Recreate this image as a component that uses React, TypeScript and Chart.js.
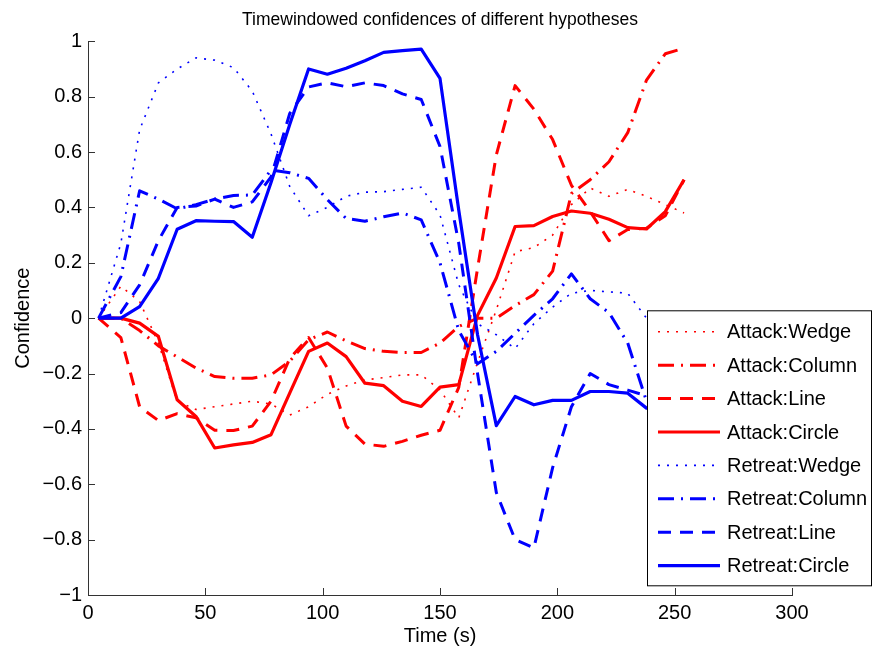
import React, { useEffect, useRef } from "react";
import { Chart, registerables } from "chart.js";

Chart.register(...registerables);

// sample times (s)
const times = [4.5, 14, 22, 30, 38, 46, 54, 62, 70, 78, 86, 94, 102, 110, 118, 126, 134, 142, 150, 158, 166, 174, 182, 190, 198, 206, 214, 222, 230, 238, 246, 254];

const attackWedge = [0, 0.115, 0.06, -0.09, -0.3, -0.33, -0.32, -0.31, -0.3, -0.31, -0.35, -0.32, -0.275, -0.245, -0.223, -0.215, -0.205, -0.205, -0.259, -0.36, -0.16, 0.03, 0.24, 0.255, 0.3, 0.41, 0.47, 0.44, 0.465, 0.44, 0.41, 0.38];
const attackColumn = [0, 0, -0.045, -0.1, -0.14, -0.18, -0.211, -0.217, -0.217, -0.205, -0.155, -0.078, -0.05, -0.082, -0.11, -0.12, -0.124, -0.124, -0.09, -0.03, 0, 0, 0.045, 0.085, 0.17, 0.45, 0.5, 0.565, 0.67, 0.86, 0.955, 0.975];
const attackLine = [0, -0.07, -0.32, -0.37, -0.345, -0.36, -0.405, -0.406, -0.39, -0.3, -0.145, -0.07, -0.18, -0.39, -0.455, -0.463, -0.445, -0.423, -0.405, -0.25, 0.18, 0.59, 0.84, 0.755, 0.645, 0.48, 0.385, 0.28, 0.32, 0.325, 0.37, 0.5];
const attackCircle = [0, 0, -0.018, -0.066, -0.295, -0.355, -0.469, -0.458, -0.449, -0.421, -0.27, -0.12, -0.09, -0.139, -0.235, -0.244, -0.3, -0.319, -0.249, -0.24, 0.01, 0.145, 0.331, 0.334, 0.367, 0.387, 0.379, 0.357, 0.327, 0.322, 0.385, 0.5];
const retreatWedge = [0, 0.27, 0.68, 0.85, 0.9, 0.94, 0.932, 0.905, 0.82, 0.665, 0.475, 0.37, 0.4, 0.44, 0.455, 0.457, 0.465, 0.473, 0.373, 0.12, -0.02, -0.06, -0.11, -0.02, 0.04, 0.09, 0.1, 0.095, 0.09, 0.0, -0.08, -0.12];
const retreatColumn = [0, 0.15, 0.46, 0.43, 0.395, 0.41, 0.43, 0.443, 0.445, 0.535, 0.525, 0.505, 0.428, 0.36, 0.35, 0.366, 0.38, 0.355, 0.2, -0.045, -0.165, -0.12, -0.055, 0.01, 0.07, 0.16, 0.07, 0.02, -0.09, -0.3, -0.33, -0.3];
const retreatLine = [0, 0.02, 0.12, 0.28, 0.4, 0.405, 0.43, 0.4, 0.42, 0.51, 0.74, 0.835, 0.85, 0.836, 0.85, 0.84, 0.81, 0.79, 0.62, 0.27, -0.2, -0.63, -0.8, -0.83, -0.54, -0.32, -0.2, -0.24, -0.26, -0.28, -0.3, -0.3];
const retreatCircle = [0, 0, 0.042, 0.144, 0.321, 0.352, 0.35, 0.349, 0.292, 0.49, 0.7, 0.9, 0.881, 0.903, 0.93, 0.96, 0.966, 0.972, 0.866, 0.39, -0.06, -0.388, -0.283, -0.313, -0.297, -0.297, -0.265, -0.265, -0.271, -0.325, -0.33, -0.32];

const seriesLabels = ["Attack:Wedge", "Attack:Column", "Attack:Line", "Attack:Circle", "Retreat:Wedge", "Retreat:Column", "Retreat:Line", "Retreat:Circle"];
const seriesValues = [attackWedge, attackColumn, attackLine, attackCircle, retreatWedge, retreatColumn, retreatLine, retreatCircle];
const seriesColors = ["#ff0000", "#ff0000", "#ff0000", "#ff0000", "#0000ff", "#0000ff", "#0000ff", "#0000ff"];
const seriesStyles = ["dotted", "dashdot", "dashed", "solid", "dotted", "dashdot", "dashed", "solid"];

const xTicks = [0, 50, 100, 150, 200, 250, 300];
const yTicks = [-1, -0.8, -0.6, -0.4, -0.2, 0, 0.2, 0.4, 0.6, 0.8, 1];

const titleText = "Timewindowed confidences of different hypotheses";
const xTitle = "Time (s)";
const yTitle = "Confidence";

const FONT = '"Liberation Sans", Arial, Helvetica, sans-serif';
const AXIS = "#333333";

const lineStyles: Record<string, { width: number; dash: number[] }> = {
  dotted: { width: 1.6, dash: [2, 7] },
  dashdot: { width: 3, dash: [16, 7, 2, 7] },
  dashed: { width: 3, dash: [13, 9] },
  solid: { width: 3.2, dash: [] },
};

const fmtY = (v: number) => {
  const r = Number(v.toFixed(1));
  if (r === 0) return "0";
  return (r < 0 ? "\u2212" : "") + String(Math.abs(r));
};

const decorPlugin = {
  id: "decor",
  afterDraw(chart: any) {
    const { ctx, chartArea, scales } = chart;
    ctx.save();
    // inward ticks
    ctx.strokeStyle = AXIS;
    ctx.lineWidth = 1;
    ctx.beginPath();
    xTicks.forEach((v) => {
      const x = Math.round(scales.x.getPixelForValue(v)) + 0.5;
      ctx.moveTo(x, chartArea.bottom);
      ctx.lineTo(x, chartArea.bottom - 7);
    });
    yTicks.forEach((v) => {
      const y = Math.round(scales.y.getPixelForValue(v)) + 0.5;
      ctx.moveTo(chartArea.left, y);
      ctx.lineTo(chartArea.left + 7, y);
    });
    ctx.stroke();

    // legend box
    const lx = chartArea.right - 145;
    const ly = chartArea.top + 269;
    const lw = 224;
    const lh = 275;
    ctx.fillStyle = "#ffffff";
    ctx.fillRect(lx, ly, lw, lh);
    ctx.strokeStyle = "#000000";
    ctx.lineWidth = 1;
    ctx.strokeRect(lx + 0.5, ly + 0.5, lw, lh);
    ctx.font = `20px ${FONT}`;
    ctx.textBaseline = "middle";
    ctx.textAlign = "left";
    seriesLabels.forEach((label, i) => {
      const y = ly + 21.5 + i * 33.4;
      const st = lineStyles[seriesStyles[i]];
      ctx.beginPath();
      ctx.strokeStyle = seriesColors[i];
      ctx.lineWidth = st.width;
      ctx.setLineDash(st.dash);
      ctx.moveTo(lx + 11, y);
      ctx.lineTo(lx + 73, y);
      ctx.stroke();
      ctx.setLineDash([]);
      ctx.fillStyle = "#000000";
      ctx.fillText(label, lx + 80, y + 1);
    });
    ctx.restore();
  },
};

export default function App() {
  const canvasRef = useRef<HTMLCanvasElement | null>(null);

  useEffect(() => {
    document.body.style.margin = "0";
    const canvas = canvasRef.current;
    if (!canvas) return;
    const datasets = seriesLabels.map((label, i) => {
      const st = lineStyles[seriesStyles[i]];
      return {
        label,
        data: times.map((t, k) => ({ x: t, y: seriesValues[i][k] })),
        borderColor: seriesColors[i],
        backgroundColor: seriesColors[i],
        borderWidth: st.width,
        borderDash: st.dash,
        borderCapStyle: "butt" as const,
        borderJoinStyle: "round" as const,
        pointRadius: 0,
        pointHoverRadius: 0,
        fill: false,
        tension: 0,
        order: seriesLabels.length - i,
      };
    });
    const chart = new Chart(canvas, {
      type: "line",
      data: { datasets },
      options: {
        responsive: false,
        maintainAspectRatio: false,
        animation: false,
        layout: { padding: { left: 0, right: 81, top: 0, bottom: 0 } },
        plugins: {
          legend: { display: false },
          tooltip: { enabled: false },
          title: {
            display: true,
            fullSize: false,
            text: titleText,
            color: "#000000",
            font: { family: FONT, size: 17.5, weight: "normal", lineHeight: 1.2 },
            padding: { top: 9.5, bottom: 10.8 },
          },
        },
        scales: {
          x: {
            type: "linear",
            min: 0,
            max: 300,
            afterBuildTicks: (s: any) => {
              s.ticks = xTicks.map((v) => ({ value: v }));
            },
            afterFit: (s: any) => {
              s.height = 56;
            },
            grid: { display: false, drawTicks: false },
            border: { display: true, color: AXIS, width: 1 },
            ticks: {
              color: "#000000",
              font: { family: FONT, size: 20 },
              padding: 6,
              maxRotation: 0,
              autoSkip: false,
              callback: (v: any) => String(v),
            },
            title: {
              display: true,
              text: xTitle,
              color: "#000000",
              font: { family: FONT, size: 20, lineHeight: 1.2 },
              padding: { top: 0, bottom: 3 },
            },
          },
          y: {
            type: "linear",
            min: -1,
            max: 1,
            afterBuildTicks: (s: any) => {
              s.ticks = yTicks.map((v) => ({ value: v }));
            },
            afterFit: (s: any) => {
              s.width = 88;
            },
            grid: { display: false, drawTicks: false },
            border: { display: true, color: AXIS, width: 1 },
            ticks: {
              color: "#000000",
              font: { family: FONT, size: 20 },
              padding: 6,
              autoSkip: false,
              callback: (v: any) => fmtY(Number(v)),
            },
            title: {
              display: true,
              text: yTitle,
              color: "#000000",
              font: { family: FONT, size: 20, lineHeight: 1.2 },
              padding: { top: 11, bottom: 0 },
            },
          },
        },
      },
      plugins: [decorPlugin],
    } as any);
    return () => chart.destroy();
  }, []);

  return (
    <div style={{ position: "absolute", left: 0, top: 0, width: 873, height: 651, background: "#ffffff" }}>
      <canvas ref={canvasRef} width={873} height={651} style={{ display: "block" }} />
    </div>
  );
}
